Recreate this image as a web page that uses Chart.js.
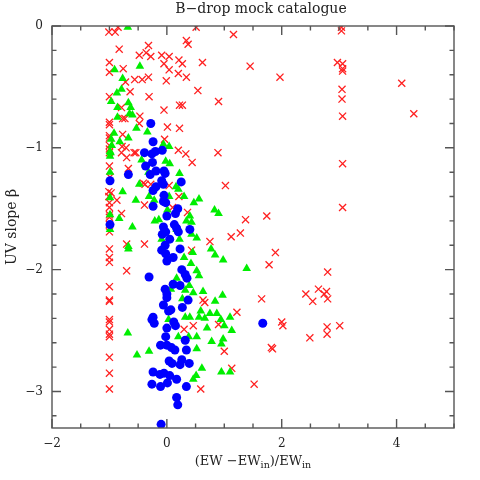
<!DOCTYPE html>
<html><head><meta charset="utf-8">
<script src="https://cdn.jsdelivr.net/npm/chart.js@4/dist/chart.umd.min.js"></script>
<style>html,body{margin:0;padding:0;background:#fff}canvas{display:block}</style>
</head><body>
<canvas id="c" width="480" height="480"></canvas>
<script>
// ---------------- data ----------------
const chartTitle = 'B\u2212drop mock catalogue';
const yAxisTitle = 'UV slope \u03b2';
const xAxisTitleParts = ['(EW \u2212EW', 'in', ')/EW', 'in']; // text, subscript, text, subscript
const xTickValues = [-2, 0, 2, 4];
const yTickValues = [-3, -2, -1, 0];
const xRange = [-2, 5];
const yRange = [-3.3, 0];

const redX = [3.04,3.04,2.97,3.06,3.06,3.06,1.45,1.97,4.09,3.05,3.05,4.30,3.06,3.06,3.06,1.74,1.89,1.78,2.80,2.64,2.78,2.74,2.42,2.80,2.54,1.65,2.00,2.02,2.79,3.01,2.79,2.49,1.82,1.84,1.52,
 -1.01,-0.90,-0.85,-0.83,-0.32,-0.48,-0.36,-0.28,-0.09,0.04,0.34,0.37,0.51,1.16,-1.00,-1.00,-0.76,-0.05,0.04,0.21,0.27,0.62,0.20,0.34,-0.56,-0.43,-0.32,-0.01,-0.72,-0.64,-0.31,0.54,0.90,-1.00,-0.79,-0.05,0.22,0.27,-0.47,-0.77,-0.73,-0.48,0.01,0.22,-1.00,-1.00,-1.00,-0.77,-0.04,-0.78,-0.71,-0.57,-0.54,0.20,0.33,0.89,-1.00,
 -0.79,-0.70,0.44,-0.67,-0.99,-0.41,-0.38,-0.28,0.04,1.02,-1.01,-0.97,-1.01,-0.87,-0.39,0.21,0.10,0.36,1.37,-1.00,-1.00,-0.79,-1.00,-1.00,1.28,1.12,0.75,-0.70,-0.39,0.43,-1.00,-1.00,-1.00,-0.70,-1.00,
 -1.00,-1.00,0.63,0.66,1.22,-1.00,-1.00,0.90,0.46,0.30,-1.00,-1.00,-1.00,1.00,-1.00,1.13,-1.00,-1.00,0.59,
 -1.00,-1.00,-1.00,-1.00,-1.00,-1.00];
const redY = [-0.01,-0.04,-0.30,-0.31,-0.35,-0.37,-0.33,-0.42,-0.47,-0.52,-0.60,-0.72,-0.74,-1.13,-1.49,-1.56,-1.86,-1.96,-2.02,-2.16,-2.18,-2.20,-2.20,-2.24,-2.26,-2.24,-2.43,-2.46,-2.47,-2.46,-2.53,-2.56,-2.64,-2.65,-2.94,
 -0.05,-0.05,-0.01,-0.19,-0.16,-0.24,-0.22,-0.25,-0.24,-0.25,-0.12,-0.15,-0.01,-0.07,-0.30,-0.38,-0.35,-0.31,-0.36,-0.28,-0.31,-0.30,-0.39,-0.42,-0.44,-0.44,-0.42,-0.45,-0.46,-0.54,-0.58,-0.53,-0.62,-0.58,-0.67,-0.69,-0.65,-0.65,-0.74,-0.76,-0.76,-0.80,-0.83,-0.84,-0.79,-0.81,-0.90,-0.89,-0.93,-0.99,-1.00,-1.04,-1.04,-1.02,-1.05,-1.04,-1.01,
 -1.04,-1.08,-1.12,-1.17,-1.24,-1.29,-1.30,-1.30,-1.31,-1.31,-1.36,-1.37,-1.40,-1.43,-1.47,-1.40,-1.49,-1.53,-1.59,-1.55,-1.57,-1.54,-1.63,-1.69,-1.70,-1.73,-1.77,-1.79,-1.79,-1.84,-1.83,-1.90,-1.94,-2.01,-2.14,
 -2.25,-2.26,-2.25,-2.27,-2.35,-2.41,-2.43,-2.45,-2.46,-2.49,-2.49,-2.53,-2.55,-2.67,-2.72,-2.81,-2.85,-2.98,-2.98,
 -0.92,-0.98,-1.04,-1.15,-1.45,-1.49];

const greenX = [-0.68,-0.91,-0.47,-0.77,-0.79,-0.87,-0.97,-0.67,-0.63,-0.86,-0.65,-0.60,-0.86,-0.53,-0.34,-0.92,-0.67,-0.97,-0.96,-0.82,-0.06,0.04,-0.98,
 -0.99,-0.99,-0.44,-0.02,0.05,-0.99,-0.32,0.22,-0.48,0.16,0.20,-0.77,-0.99,-0.54,-0.31,0.04,0.30,-0.22,0.56,0.47,-0.99,-0.83,0.83,0.90,0.01,-0.14,-0.21,0.40,0.34,0.43,-0.60,-0.99,0.17,0.43,0.52,-0.09,0.22,-0.67,-0.67,0.77,0.45,0.84,0.30,0.98,0.42,1.39,0.52,0.56,0.17,0.39,
 0.07,0.32,0.46,0.63,0.97,0.27,0.84,0.59,0.75,0.87,0.32,0.40,0.56,0.66,1.10,0.03,0.94,1.00,0.70,1.13,-0.68,0.20,0.38,0.52,0.98,0.78,0.95,0.52,-0.31,-0.52,0.61,0.51,0.46,0.95,1.10];
const greenY = [-0.01,-0.36,-0.33,-0.43,-0.52,-0.55,-0.62,-0.63,-0.67,-0.67,-0.72,-0.73,-0.75,-0.84,-0.87,-0.88,-0.92,-0.93,-0.98,-0.95,-0.97,-0.99,-1.04,
 -1.03,-1.07,-1.10,-1.11,-1.13,-1.20,-1.20,-1.21,-1.30,-1.32,-1.34,-1.36,-1.41,-1.43,-1.40,-1.40,-1.40,-1.43,-1.42,-1.45,-1.55,-1.58,-1.51,-1.54,-1.51,-1.59,-1.60,-1.56,-1.60,-1.61,-1.65,-1.67,-1.67,-1.71,-1.74,-1.75,-1.75,-1.81,-1.83,-1.83,-1.86,-1.88,-1.90,-1.92,-1.95,-1.99,-2.01,-2.05,-2.07,-2.13,
 -2.16,-2.17,-2.19,-2.18,-2.21,-2.24,-2.26,-2.34,-2.36,-2.36,-2.39,-2.39,-2.39,-2.40,-2.39,-2.41,-2.41,-2.46,-2.48,-2.50,-2.52,-2.55,-2.55,-2.55,-2.57,-2.59,-2.61,-2.65,-2.67,-2.70,-2.81,-2.87,-2.90,-2.84,-2.84];

const blueX = [-0.28,-0.24,-0.39,-0.26,-0.20,-0.08,
 -0.25,-0.37,-0.67,-0.99,-0.29,-0.19,-0.05,-0.03,-0.09,0.25,-0.06,-0.19,-0.24,-0.05,-0.06,-0.02,-0.24,0.19,0.15,0.00,-0.99,0.13,-0.06,0.17,0.40,-0.02,0.20,-0.08,0.05,-0.03,0.23,-0.09,-0.02,0.11,0.00,0.26,0.32,0.35,-0.31,0.11,0.23,-0.03,
 0.00,0.00,0.37,-0.06,0.03,0.07,0.27,-0.24,-0.26,-0.22,0.12,0.15,0.00,-0.02,0.32,-0.11,0.00,0.08,0.14,0.34,0.04,0.09,0.23,0.26,0.39,-0.24,-0.12,-0.05,0.05,0.17,-0.26,-0.11,0.01,0.34,0.17,0.19,-0.10,1.67];
const blueY = [-0.80,-0.95,-1.04,-1.05,-1.03,-1.02,
 -1.12,-1.15,-1.22,-1.27,-1.22,-1.19,-1.19,-1.21,-1.27,-1.28,-1.30,-1.32,-1.35,-1.39,-1.44,-1.45,-1.48,-1.50,-1.54,-1.56,-1.63,-1.63,-1.65,-1.66,-1.67,-1.69,-1.69,-1.71,-1.75,-1.80,-1.83,-1.84,-1.87,-1.90,-1.93,-2.00,-2.04,-2.07,-2.06,-2.12,-2.13,-2.16,
 -2.20,-2.23,-2.25,-2.29,-2.34,-2.33,-2.31,-2.39,-2.41,-2.44,-2.43,-2.46,-2.48,-2.55,-2.58,-2.62,-2.62,-2.64,-2.66,-2.66,-2.75,-2.77,-2.78,-2.74,-2.77,-2.84,-2.86,-2.85,-2.87,-2.90,-2.94,-2.96,-2.93,-2.96,-3.05,-3.11,-3.27,-2.44];

// ---------------- chart ----------------
const zip = (xs, ys) => xs.map((x, i) => ({x, y: ys[i]}));
const minus = v => (v < 0 ? '\u2212' + Math.abs(v) : String(v));
const SERIF = '"DejaVu Serif", serif';
const AXIS_COLOR = '#555';

const frameAndTitles = {
  id: 'frameAndTitles',
  afterDatasetsDraw(chart) {
    const {ctx, chartArea: a, scales: {x, y}} = chart;
    ctx.save();
    ctx.strokeStyle = AXIS_COLOR;
    ctx.lineWidth = 1.4;
    ctx.strokeRect(a.left, a.top, a.right - a.left, a.bottom - a.top);
    ctx.beginPath();
    for (let k = 0; k <= 14; k++) {
      const v = xRange[0] + k * 0.5;
      const px = x.getPixelForValue(v);
      const L = (Math.abs(v / 2 - Math.round(v / 2)) < 1e-6) ? 9 : 4.5;
      ctx.moveTo(px, a.bottom); ctx.lineTo(px, a.bottom - L);
      ctx.moveTo(px, a.top); ctx.lineTo(px, a.top + L);
    }
    for (let k = 0; k <= 16; k++) {
      const v = -k * 0.2;
      const py = y.getPixelForValue(v);
      const L = (Math.abs(v - Math.round(v)) < 1e-6) ? 9 : 4.5;
      ctx.moveTo(a.left, py); ctx.lineTo(a.left + L, py);
      ctx.moveTo(a.right, py); ctx.lineTo(a.right - L, py);
    }
    ctx.stroke();

    // title
    ctx.fillStyle = '#222';
    ctx.font = '14px ' + SERIF;
    ctx.textAlign = 'center';
    ctx.textBaseline = 'alphabetic';
    ctx.fillText(chartTitle, 261, 13);

    // x axis title with subscripts
    const big = '13px ' + SERIF, small = '9.5px ' + SERIF;
    const widths = xAxisTitleParts.map((t, i) => { ctx.font = i % 2 ? small : big; return ctx.measureText(t).width; });
    const total = widths.reduce((s, w) => s + w, 0);
    let cx = (a.left + a.right) / 2 - total / 2;
    ctx.textAlign = 'left';
    xAxisTitleParts.forEach((t, i) => {
      ctx.font = i % 2 ? small : big;
      ctx.fillText(t, cx, i % 2 ? 468 : 465);
      cx += widths[i];
    });
    ctx.restore();
  }
};

new Chart(document.getElementById('c'), {
  type: 'scatter',
  data: {
    datasets: [
      {label: 'blue', data: zip(blueX, blueY), order: 0, pointStyle: 'circle', pointRadius: 4.5,
       backgroundColor: '#0000ff', borderColor: '#0000ff', borderWidth: 0},
      {label: 'green', data: zip(greenX, greenY), order: 1, pointStyle: 'triangle', pointRadius: 5,
       backgroundColor: '#00ee00', borderColor: '#00ee00', borderWidth: 0},
      {label: 'red', data: zip(redX, redY), order: 2, pointStyle: 'crossRot', pointRadius: 5,
       backgroundColor: '#ff2020', borderColor: '#ff2020', borderWidth: 1.3}
    ]
  },
  options: {
    responsive: false,
    animation: false,
    events: [],
    layout: {padding: {top: 26, right: 26, left: 0, bottom: 0}},
    plugins: {legend: {display: false}, tooltip: {enabled: false}, title: {display: false}},
    scales: {
      x: {
        type: 'linear', min: xRange[0], max: xRange[1],
        grid: {display: false, drawTicks: false}, border: {display: false},
        afterFit(s) { s.height = 52; },
        afterBuildTicks(s) { s.ticks = xTickValues.map(v => ({value: v})); },
        ticks: {padding: 9, color: '#222', font: {family: SERIF, size: 12}, maxRotation: 0, autoSkip: false,
                callback: v => minus(v)}
      },
      y: {
        type: 'linear', min: yRange[0], max: yRange[1],
        grid: {display: false, drawTicks: false}, border: {display: false},
        afterFit(s) { s.width = 52; },
        afterBuildTicks(s) { s.ticks = yTickValues.map(v => ({value: v})); },
        ticks: {padding: 9, color: '#222', font: {family: SERIF, size: 12}, autoSkip: false,
                callback: v => minus(v)},
        title: {display: true, text: yAxisTitle, color: '#222', font: {family: SERIF, size: 14}, padding: {top: 4, bottom: 0}}
      }
    }
  },
  plugins: [frameAndTitles]
});
</script>
</body></html>
